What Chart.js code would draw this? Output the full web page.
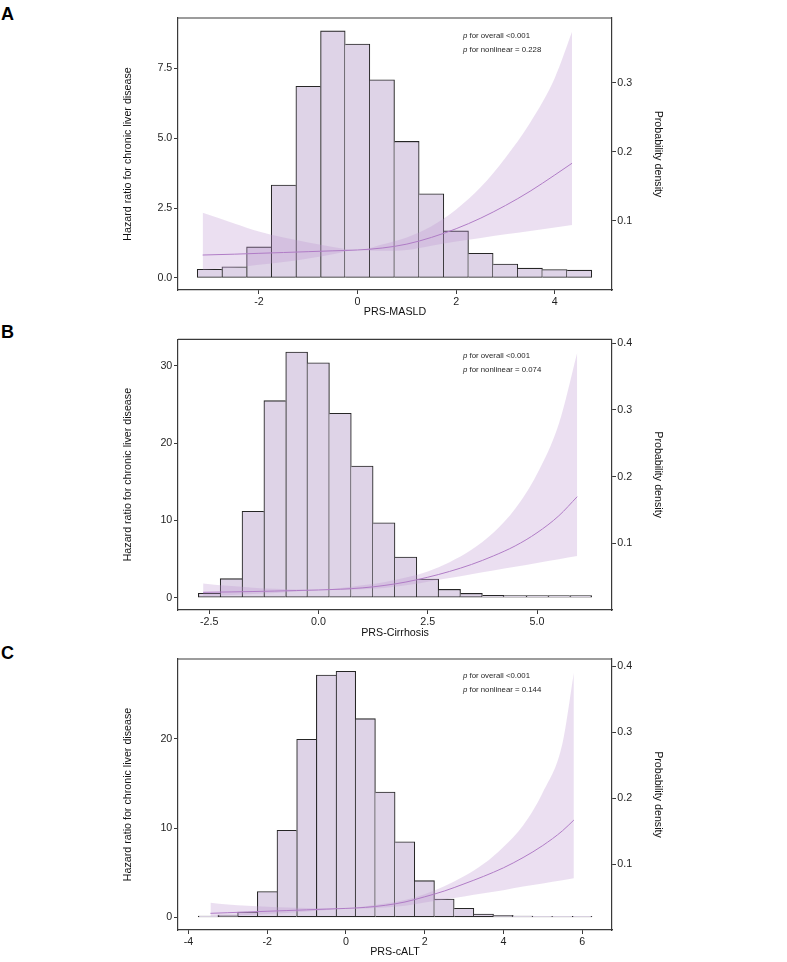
<!DOCTYPE html>
<html>
<head>
<meta charset="utf-8">
<title>Hazard ratio and PRS distribution</title>
<script src="https://cdn.jsdelivr.net/npm/chart.js@4.4.0/dist/chart.umd.min.js"></script>
<style>
  body { margin: 0; background: #fff; width: 787px; height: 962px; position: relative; overflow: hidden; }
  .panel { position: absolute; left: 0; width: 787px; height: 320px; }
  .tag { position: absolute; left: 1px; font: bold 18px "Liberation Sans", Arial, sans-serif; line-height: 18px; color: #000; }
</style>
</head>
<body>
<div class="tag" style="top:5px">A</div>
<div class="tag" style="top:323px">B</div>
<div class="tag" style="top:644px">C</div>
<div class="panel" style="top:0px"><canvas id="chartA" width="787" height="320"></canvas></div>
<div class="panel" style="top:320px"><canvas id="chartB" width="787" height="320"></canvas></div>
<div class="panel" style="top:640px"><canvas id="chartC" width="787" height="320"></canvas></div>
<script>
// ---- panel A : PRS-MASLD ----
var binsA = [-3, -2.5, -2, -1.5, -1, -0.5, 0, 0.5, 1, 1.5, 2, 2.5, 3, 3.5, 4, 4.5]
var histA = [0.31, 0.40, 1.11, 3.32, 6.85, 8.83, 8.36, 7.08, 4.88, 3.01, 1.68, 0.88, 0.50, 0.35, 0.30, 0.28]
var curveXA = [-3.14, -2.5, -2, -1.5, -1, -0.5, 0, 0.5, 1, 1.5, 2, 2.5, 3, 3.5, 4, 4.35]
var hrA = [0.82, 0.85, 0.88, 0.91, 0.94, 0.97, 1.0, 1.07, 1.21, 1.45, 1.76, 2.14, 2.59, 3.10, 3.68, 4.10]
var lowA = [0.29, 0.37, 0.47, 0.57, 0.70, 0.85, 1.0, 0.97, 1.0, 1.15, 1.3, 1.43, 1.56, 1.68, 1.80, 1.89]
var upA = [2.33, 1.95, 1.66, 1.45, 1.27, 1.11, 1.0, 1.2, 1.45, 1.85, 2.45, 3.25, 4.3, 5.55, 7.15, 8.8]
var xTicksA = [-2, 0, 2, 4]
var yTicksA = [0, 2.5, 5, 7.5]
var y2TicksA = [0.1, 0.2, 0.3]

// ---- panel B : PRS-Cirrhosis ----
var binsB = [-2.5, -2, -1.5, -1, -0.5, 0, 0.5, 1, 1.5, 2, 2.5, 3, 3.5, 4, 4.5, 5, 5.5, 6]
var histB = [0.57, 2.46, 11.18, 25.49, 31.79, 30.4, 23.85, 17.04, 9.7, 5.27, 2.42, 1.08, 0.56, 0.30, 0.26, 0.26, 0.26, 0.26]
var curveXB = [-2.64, -2, -1.5, -1, -0.5, 0, 0.5, 1, 1.5, 2, 2.5, 3, 3.5, 4, 4.5, 5, 5.5, 5.92]
var hrB = [0.70, 0.75, 0.80, 0.86, 0.93, 1.0, 1.1, 1.27, 1.58, 2.03, 2.65, 3.4, 4.3, 5.4, 6.7, 8.4, 10.6, 13.07]
var lowB = [0.25, 0.35, 0.47, 0.62, 0.80, 1.0, 1.0, 1.1, 1.25, 1.6, 2.08, 2.56, 3.05, 3.53, 4.0, 4.5, 4.98, 5.39]
var upB = [1.85, 1.5, 1.3, 1.15, 1.05, 1.0, 1.25, 1.6, 2.0, 2.6, 3.4, 4.6, 6.2, 8.4, 11.5, 16.0, 22.5, 31.7]
var xTicksB = [-2.5, 0, 2.5, 5]
var yTicksB = [0, 10, 20, 30]
var y2TicksB = [0.1, 0.2, 0.3, 0.4]

// ---- panel C : PRS-cALT ----
var binsC = [-3.5, -3, -2.5, -2, -1.5, -1, -0.5, 0, 0.5, 1, 1.5, 2, 2.5, 3, 3.5, 4, 4.5, 5, 5.5, 6]
var histC = [0.15, 0.26, 0.6, 2.9, 9.76, 19.97, 27.18, 27.59, 22.28, 14.05, 8.48, 4.11, 2.05, 1.01, 0.37, 0.22, 0.15, 0.12, 0.10, 0.10]
var curveXC = [-3.44, -3, -2.5, -2, -1.5, -1, -0.5, 0, 0.5, 1, 1.5, 2, 2.5, 3, 3.5, 4, 4.5, 5, 5.5, 5.79]
var hrC = [0.45, 0.52, 0.60, 0.68, 0.76, 0.84, 0.92, 1.0, 1.12, 1.35, 1.72, 2.3, 2.95, 3.75, 4.6, 5.55, 6.7, 8.05, 9.7, 10.91]
var lowC = [0.12, 0.18, 0.27, 0.38, 0.50, 0.65, 0.82, 1.0, 1.0, 1.1, 1.3, 1.65, 2.0, 2.35, 2.7, 3.05, 3.45, 3.8, 4.15, 4.37]
var upC = [1.64, 1.45, 1.30, 1.18, 1.10, 1.05, 1.02, 1.0, 1.25, 1.55, 1.95, 2.6, 3.5, 4.6, 6.0, 7.9, 10.3, 14.0, 19.5, 27.4]
var xTicksC = [-4, -2, 0, 2, 4, 6]
var yTicksC = [0, 10, 20]
var y2TicksC = [0.1, 0.2, 0.3, 0.4]

var BAR_FILL = '#DED3E7'
var BAR_EDGE = '#262626'
var BAND = 'rgba(190, 150, 210, 0.30)'
var LINE = '#B07CC6'
var AXIS = '#3a3a3a'

Chart.defaults.font.family = '"Liberation Sans", Arial, Helvetica, sans-serif'
Chart.defaults.font.size = 10.7
Chart.defaults.color = '#1f1f1f'

function pts(xs, ys) {
    return xs.map(function(x, i) { return {x: x, y: ys[i]} })
}

// top edge of the frame and the p-value notes
var annot = {
    id: 'annot',
    afterDraw: function(chart, args, opts) {
        var ctx = chart.ctx, a = chart.chartArea
        ctx.save()
        ctx.strokeStyle = AXIS
        ctx.lineWidth = 1.2
        ctx.beginPath()
        ctx.moveTo(a.left, a.top)
        ctx.lineTo(a.right, a.top)
        ctx.stroke()
        ctx.fillStyle = '#1f1f1f'
        ctx.textBaseline = 'middle'
        opts.lines.forEach(function(t, i) {
            var x = opts.x, y = opts.y + i * 14
            ctx.font = 'italic 7.8px "Liberation Sans", Arial, sans-serif'
            ctx.fillText('p', x, y)
            x += ctx.measureText('p ').width
            ctx.font = '7.8px "Liberation Sans", Arial, sans-serif'
            ctx.fillText(t, x, y)
        })
        ctx.restore()
    }
}

function makePanel(id, p) {
    var h = p.hist, n = h.length
    var tickGrid = {drawOnChartArea: false, drawTicks: true, tickLength: 4, color: AXIS, lineWidth: 1, offset: false}
    var border = {display: true, color: AXIS, width: 1.2}
    return new Chart(document.getElementById(id), {
        type: 'bar',
        data: {
            datasets: [
                {
                    type: 'bar',
                    data: pts(p.bins, h),
                    backgroundColor: BAR_FILL,
                    borderColor: BAR_EDGE,
                    borderSkipped: false,
                    borderWidth: function(c) {
                        var i = c.dataIndex
                        return {
                            top: 1.1, bottom: 1.1,
                            left: (i === 0 || h[i] >= h[i - 1]) ? 1.1 : 0,
                            right: (i === n - 1 || h[i] > h[i + 1]) ? 1.1 : 0
                        }
                    },
                    barPercentage: 1,
                    categoryPercentage: 1,
                    order: 3
                },
                {
                    type: 'line', data: pts(p.cx, p.low),
                    borderColor: 'rgba(0,0,0,0)', borderWidth: 0, pointRadius: 0,
                    fill: false, cubicInterpolationMode: 'monotone', order: 2
                },
                {
                    type: 'line', data: pts(p.cx, p.up),
                    borderColor: 'rgba(0,0,0,0)', borderWidth: 0, pointRadius: 0,
                    fill: '-1', backgroundColor: BAND, cubicInterpolationMode: 'monotone', order: 2
                },
                {
                    type: 'line', data: pts(p.cx, p.hr),
                    borderColor: LINE, borderWidth: 1, pointRadius: 0,
                    fill: false, cubicInterpolationMode: 'monotone', order: 1
                }
            ]
        },
        options: {
            responsive: false,
            animation: false,
            events: [],
            layout: {padding: {top: p.top, left: 0, right: 0, bottom: 0}},
            plugins: {
                legend: {display: false},
                tooltip: {enabled: false},
                annot: {x: 463, y: 35.5, lines: ['for overall <0.001', 'for nonlinear = ' + p.pnl]}
            },
            scales: {
                x: {
                    type: 'linear', min: p.xmin, max: p.xmax, offset: false,
                    afterBuildTicks: function(s) { s.ticks = p.xt.map(function(v) { return {value: v} }) },
                    afterFit: function(s) { s.height = 30 },
                    grid: tickGrid, border: border,
                    ticks: {padding: 1.3, maxRotation: 0, autoSkip: false,
                        callback: function(v) { return v.toFixed(p.xd) }},
                    title: {display: true, text: p.xlabel, padding: p.xtp, color: '#111'}
                },
                y: {
                    position: 'left', min: p.ymin, max: p.ymax,
                    afterBuildTicks: function(s) { s.ticks = p.yt.map(function(v) { return {value: v} }) },
                    afterFit: function(s) { s.width = 178 },
                    grid: tickGrid, border: border,
                    ticks: {padding: 1.7, callback: function(v) { return v.toFixed(p.yd) }},
                    title: {display: true, text: 'Hazard ratio for chronic liver disease', padding: 121.6, color: '#111'}
                },
                y2: {
                    position: 'right', min: 0, max: p.y2max,
                    afterBuildTicks: function(s) { s.ticks = p.y2t.map(function(v) { return {value: v} }) },
                    afterFit: function(s) { s.width = 175 },
                    grid: tickGrid, border: border,
                    ticks: {padding: 1.3, callback: function(v) { return v.toFixed(1) }},
                    title: {display: true, text: 'Probability density', padding: 122.6, color: '#111'}
                }
            }
        },
        plugins: [annot]
    })
}

makePanel('chartA', {
    bins: binsA, hist: histA, cx: curveXA, hr: hrA, low: lowA, up: upA,
    xt: xTicksA, yt: yTicksA, y2t: y2TicksA, xd: 0, yd: 1,
    xmin: -3.64, xmax: 5.16, ymin: -0.43, ymax: 9.29, y2max: 0.394,
    top: 18, xlabel: 'PRS-MASLD', xtp: 1.9, pnl: '0.228'
})
makePanel('chartB', {
    bins: binsB, hist: histB, cx: curveXB, hr: hrB, low: lowB, up: upB,
    xt: xTicksB, yt: yTicksB, y2t: y2TicksB, xd: 1, yd: 0,
    xmin: -3.215, xmax: 6.716, ymin: -1.59, ymax: 33.43, y2max: 0.406,
    top: 19.3, xlabel: 'PRS-Cirrhosis', xtp: 0.8, pnl: '0.074'
})
makePanel('chartC', {
    bins: binsC, hist: histC, cx: curveXC, hr: hrC, low: lowC, up: upC,
    xt: xTicksC, yt: yTicksC, y2t: y2TicksC, xd: 0, yd: 0,
    xmin: -4.264, xmax: 6.759, ymin: -1.42, ymax: 28.97, y2max: 0.411,
    top: 19, xlabel: 'PRS-cALT', xtp: 1.9, pnl: '0.144'
})
</script>
</body>
</html>
